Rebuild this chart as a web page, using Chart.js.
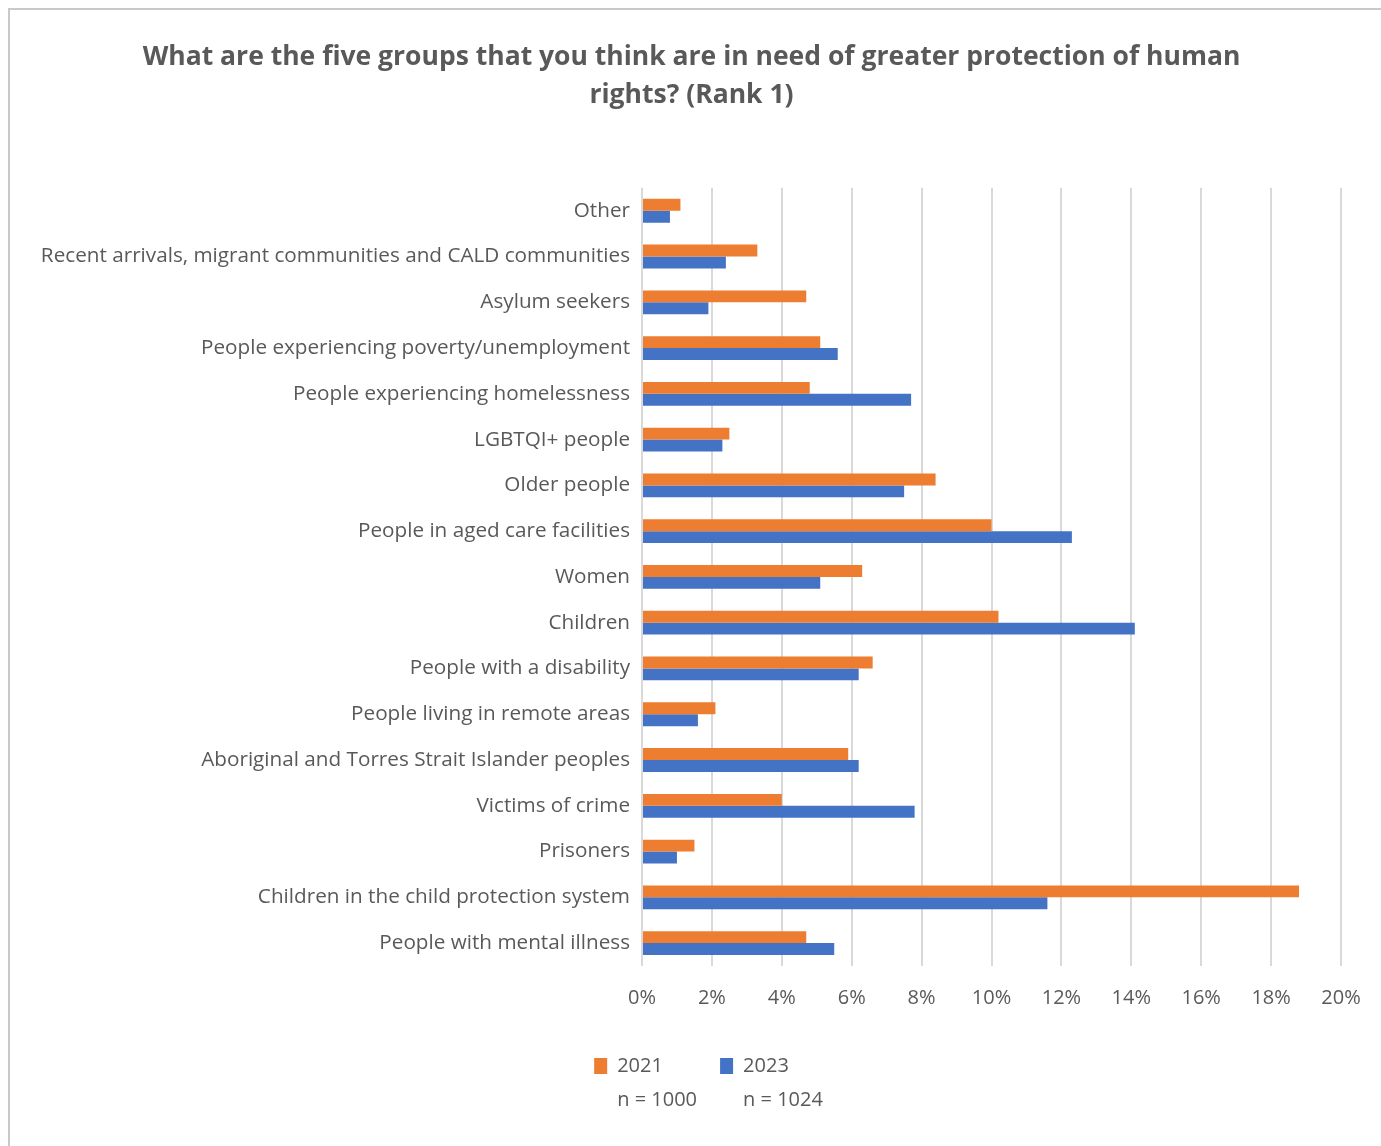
<!DOCTYPE html>
<html>
<head>
<meta charset="utf-8">
<title>Groups in need of greater protection of human rights</title>
<script src="https://cdn.jsdelivr.net/npm/chart.js@4.4.1/dist/chart.umd.min.js"></script>
<style>
  html, body { margin: 0; padding: 0; background: #fff; overflow: hidden; }
  #chartContainer {
    position: absolute;
    left: 8px;
    top: 8px;
    width: 1392px;
    height: 1150px;
    border-left: 2px solid #c9c9c9;
    border-top: 2px solid #c9c9c9;
    box-sizing: border-box;
  }
</style>
</head>
<body>
<div id="chartContainer"><canvas id="groupsChart"></canvas></div>
<script>
// categories, top to bottom as in the survey chart
const categories = [
    "Other",
    "Recent arrivals, migrant communities and CALD communities",
    "Asylum seekers",
    "People experiencing poverty/unemployment",
    "People experiencing homelessness",
    "LGBTQI+ people",
    "Older people",
    "People in aged care facilities",
    "Women",
    "Children",
    "People with a disability",
    "People living in remote areas",
    "Aboriginal and Torres Strait Islander peoples",
    "Victims of crime",
    "Prisoners",
    "Children in the child protection system",
    "People with mental illness"
];

// percentages
const values2021 = [1.1, 3.3, 4.7, 5.1, 4.8, 2.5, 8.4, 10.0, 6.3, 10.2, 6.6, 2.1, 5.9, 4.0, 1.5, 18.8, 4.7];
const values2023 = [0.8, 2.4, 1.9, 5.6, 7.7, 2.3, 7.5, 12.3, 5.1, 14.1, 6.2, 1.6, 6.2, 7.8, 1.0, 11.6, 5.5];

const seriesNames = ["2021", "2023"];
const sampleSizes = ["n = 1000", "n = 1024"];
const xTicks = [0, 2, 4, 6, 8, 10, 12, 14, 16, 18, 20];

const textColor = "#595959";
const fontFamily = "'Open Sans', Lato, sans-serif";

// writes the sample size under each legend entry
const sampleSizePlugin = {
    id: "sampleSizes",
    afterDraw(chart) {
        const legend = chart.legend;
        if (!legend || !legend.legendHitBoxes) return;
        const ctx = chart.ctx;
        ctx.save();
        ctx.fillStyle = textColor;
        ctx.font = "20px " + fontFamily;
        ctx.textBaseline = "middle";
        ctx.textAlign = "left";
        legend.legendHitBoxes.forEach(function (box, i) {
            const textX = box.left + legend.options.labels.boxWidth + 10;
            ctx.fillText(sampleSizes[i], textX, box.top + box.height / 2 + 34);
        });
        ctx.restore();
    }
};

const canvas = document.getElementById("groupsChart");
new Chart(canvas.getContext("2d"), {
    type: "bar",
    data: {
        labels: categories,
        datasets: [
            {
                label: seriesNames[0],
                data: values2021,
                backgroundColor: "#ED7D31",
                categoryPercentage: 0.52,
                barPercentage: 1.0
            },
            {
                label: seriesNames[1],
                data: values2023,
                backgroundColor: "#4472C4",
                categoryPercentage: 0.52,
                barPercentage: 1.0
            }
        ]
    },
    options: {
        indexAxis: "y",
        responsive: true,
        maintainAspectRatio: false,
        animation: false,
        layout: {
            padding: { left: 32, right: 59, top: 28, bottom: 72 }
        },
        scales: {
            x: {
                min: 0,
                max: 20,
                afterBuildTicks: function (scale) {
                    scale.ticks = xTicks.map(v => ({ value: v }));
                },
                grid: {
                    color: "#d9d9d9",
                    lineWidth: 2,
                    drawTicks: false
                },
                border: { display: false },
                ticks: {
                    color: textColor,
                    font: { family: fontFamily, size: 20 },
                    padding: 20,
                    callback: v => v + "%"
                }
            },
            y: {
                grid: { display: false, drawTicks: false },
                border: { display: false },
                afterFit: function (scale) {
                    scale.width = 600;
                },
                ticks: {
                    color: textColor,
                    font: { family: fontFamily, size: 20.7 },
                    padding: 12,
                    autoSkip: false
                }
            }
        },
        plugins: {
            title: {
                display: true,
                text: ["What are the five groups that you think are in need of greater protection of human", "rights? (Rank 1)"],
                color: textColor,
                font: { family: fontFamily, size: 26.5, weight: "bold", lineHeight: 1.45 },
                padding: { top: 0, bottom: 73 }
            },
            legend: {
                position: "bottom",
                labels: {
                    color: textColor,
                    font: { family: fontFamily, size: 20 },
                    boxWidth: 13,
                    boxHeight: 16,
                    padding: 26,
                    // extra room after the first entry, like the gap in the original legend
                    generateLabels: function (chart) {
                        const items = Chart.defaults.plugins.legend.labels.generateLabels(chart);
                        items[0].text = items[0].text + "\u00a0\u00a0\u00a0\u00a0\u00a0\u00a0";
                        return items;
                    }
                }
            },
            tooltip: {
                callbacks: {
                    label: function (context) {
                        return context.dataset.label + ": " + context.parsed.x.toFixed(1) + "%";
                    }
                }
            }
        }
    },
    plugins: [sampleSizePlugin]
});
</script>
</body>
</html>
